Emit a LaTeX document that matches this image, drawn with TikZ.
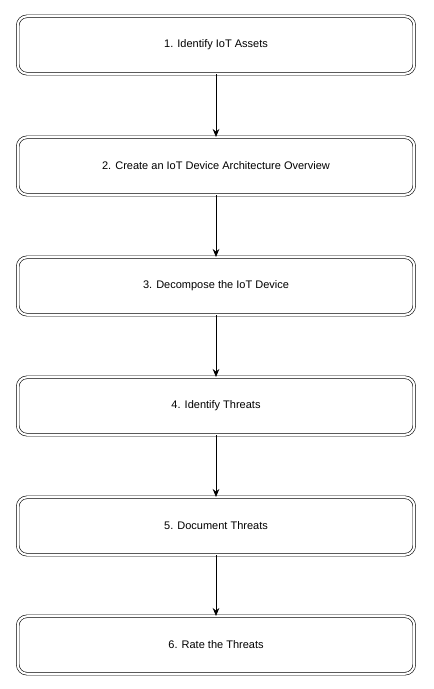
\documentclass[tikz,border=0pt]{standalone}
\usepackage{fontspec}
\setmainfont{Liberation Sans}
\usetikzlibrary{arrows.meta}
\begin{document}
\begin{tikzpicture}[x=0.75pt,y=-0.75pt,
  stepbox/.style={draw=black, line width=0.45pt, double=white, double distance=1.6pt,
    rounded corners=7pt, minimum width=396.5*0.75pt, minimum height=57.5*0.75pt,
    inner sep=0pt, font=\fontsize{8.25pt}{10pt}\selectfont},
  link/.style={draw=black, line width=0.6pt, -{Stealth[length=6pt,width=5pt,inset=2pt]}}]
\useasboundingbox (0,0) rectangle (433,689);
\node[stepbox] (s1) at (216,45) {1. Identify IoT Assets};
\node[stepbox] (s2) at (216,166) {2. Create an IoT Device Architecture Overview};
\node[stepbox] (s3) at (216,286) {3. Decompose the IoT Device};
\node[stepbox] (s4) at (216,406) {4. Identify Threats};
\node[stepbox] (s5) at (216,526) {5. Document Threats};
\node[stepbox] (s6) at (216,645) {6. Rate the Threats};
\draw[link] (s1.south) -- (s2.north);
\draw[link] (s2.south) -- (s3.north);
\draw[link] (s3.south) -- (s4.north);
\draw[link] (s4.south) -- (s5.north);
\draw[link] (s5.south) -- (s6.north);
\end{tikzpicture}
\end{document}
